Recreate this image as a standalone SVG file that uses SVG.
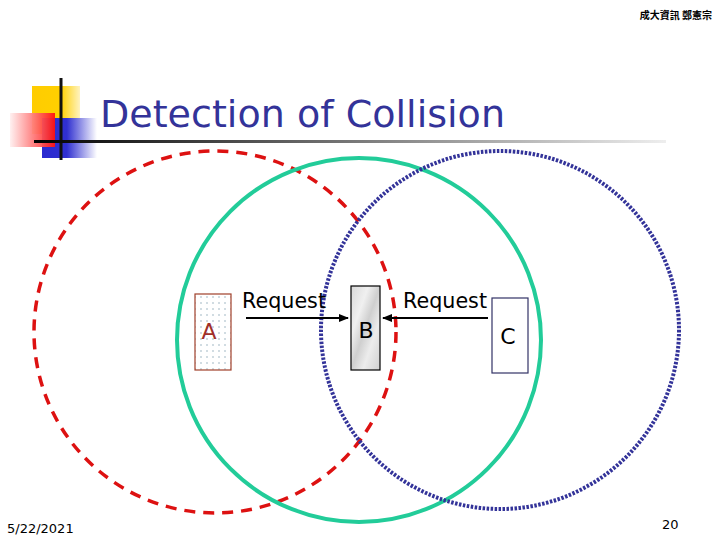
<svg xmlns="http://www.w3.org/2000/svg" width="720" height="540" viewBox="0 0 720 540">
<style>
.lbl{font-family:"DejaVu Sans","Liberation Sans",sans-serif;fill:#000}
.foot{font-family:"DejaVu Sans","Liberation Sans",sans-serif;font-size:13px;fill:#000}
.conn{stroke:#000;stroke-width:2;fill:none;marker-end:url(#ah)}
</style>
<defs>
<marker id="ah" markerWidth="10" markerHeight="10" refX="9" refY="5" orient="auto" markerUnits="userSpaceOnUse">
<path d="M0,1 L10,5 L0,9 Z" fill="#000"/>
</marker>
<linearGradient id="hl" x1="0" x2="1" y1="0" y2="0">
<stop offset="0" stop-color="#000"/>
<stop offset="0.5" stop-color="#777"/>
<stop offset="1" stop-color="#eee"/>
</linearGradient>
<linearGradient id="redg" x1="0" x2="1" y1="0" y2="0">
<stop offset="0" stop-color="#fff0f0"/>
<stop offset="1" stop-color="#ff1010"/>
</linearGradient>
<linearGradient id="blueg" x1="0" x2="1" y1="0" y2="0">
<stop offset="0" stop-color="#2a2ad0"/>
<stop offset="0.45" stop-color="#3030d0"/>
<stop offset="1" stop-color="#ffffff"/>
</linearGradient>
<linearGradient id="yelg" x1="0" x2="1" y1="0" y2="0">
<stop offset="0" stop-color="#ffcc00"/>
<stop offset="0.6" stop-color="#ffd000"/>
<stop offset="1" stop-color="#fff3c0"/>
</linearGradient>
<pattern id="dots" width="6" height="6" patternUnits="userSpaceOnUse">
<rect width="6" height="6" fill="#fff"/>
<circle cx="3" cy="3" r="0.7" fill="#7fa0b0"/>
</pattern>
<linearGradient id="marble" x1="0" y1="0" x2="1" y2="1">
<stop offset="0" stop-color="#d8d8d8"/>
<stop offset="0.3" stop-color="#f0f0f0"/>
<stop offset="0.5" stop-color="#cfcfcf"/>
<stop offset="0.7" stop-color="#ececec"/>
<stop offset="1" stop-color="#d0d0d0"/>
</linearGradient>
</defs>
<rect width="720" height="540" fill="#fff"/>
<text x="712" y="19" text-anchor="end" font-family="'Noto Sans CJK TC',sans-serif" font-size="10" font-weight="bold" fill="#000">成大資訊 鄭憲宗</text>
<g id="logo">
<rect x="32" y="86" width="48" height="48" fill="url(#yelg)"/>
<rect x="42" y="118" width="55" height="40" fill="url(#blueg)"/>
<rect x="10" y="113" width="45" height="34" fill="url(#redg)" opacity="0.95"/>
<line x1="61" y1="78" x2="61" y2="160" stroke="#111" stroke-width="3"/>
</g>
<rect x="34" y="140" width="632" height="3" fill="url(#hl)"/>
<text x="100" y="127" font-family="'DejaVu Sans','Liberation Sans',sans-serif" font-size="38" fill="#333399" textLength="405" lengthAdjust="spacingAndGlyphs">Detection of Collision</text>
<g id="circles" fill="none">
<circle id="circleA" cx="215" cy="332" r="181" stroke="#dd1111" stroke-width="3.5" stroke-dasharray="11 8"/>
<circle id="circleB" cx="359" cy="340" r="182" stroke="#22cc99" stroke-width="4"/>
<circle id="circleC" cx="500" cy="330" r="179" stroke="#333399" stroke-width="4" stroke-dasharray="2.5 1.5"/>
</g>
<g id="nodeA">
<rect x="195" y="294" width="36" height="76" fill="url(#dots)" stroke="#a0402a" stroke-width="1.2"/>
<text x="209" y="339" text-anchor="middle" font-family="'DejaVu Sans',sans-serif" font-size="22" fill="#a0302a">A</text>
</g>
<g id="nodeB">
<rect x="351" y="286" width="29" height="84" fill="url(#marble)" stroke="#000" stroke-width="1.2"/>
<text x="366" y="338" text-anchor="middle" class="lbl" font-size="22">B</text>
</g>
<g id="nodeC">
<rect x="492" y="298" width="36" height="75" fill="#fff" stroke="#333366" stroke-width="1.2"/>
<text x="508" y="344" text-anchor="middle" class="lbl" font-size="22">C</text>
</g>
<g id="connectors">
<line class="conn" x1="246" y1="318" x2="348" y2="318"/>
<line class="conn" x1="488" y1="318" x2="383" y2="318"/>
<text x="242" y="308" class="lbl" font-size="22" textLength="84" lengthAdjust="spacingAndGlyphs">Request</text>
<text x="403" y="308" class="lbl" font-size="22" textLength="84" lengthAdjust="spacingAndGlyphs">Request</text>
</g>
<text x="7" y="533" class="foot">5/22/2021</text>
<text x="662" y="529" class="foot">20</text>
</svg>
